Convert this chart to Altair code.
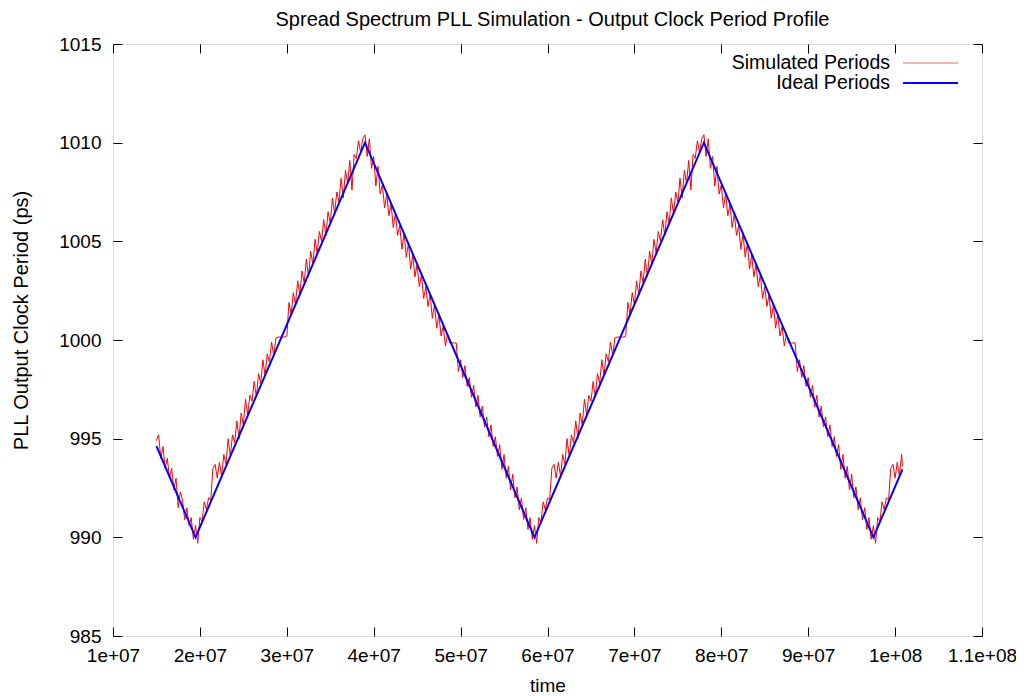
import altair as alt
import pandas as pd

# ---------------- text ----------------
title_text = "Spread Spectrum PLL Simulation - Output Clock Period Profile"
x_title = "time"
y_title = "PLL Output Clock Period (ps)"
legend_labels = ["Simulated Periods", "Ideal Periods"]
series_colors = ["#ff0000", "#0000ff"]

# ---------------- axes ----------------
x_ticks = [1e7, 2e7, 3e7, 4e7, 5e7, 6e7, 7e7, 8e7, 9e7, 1e8, 1.1e8]
x_tick_labels = ["1e+07", "2e+07", "3e+07", "4e+07", "5e+07", "6e+07",
                 "7e+07", "8e+07", "9e+07", "1e+08", "1.1e+08"]
y_ticks = [985, 990, 995, 1000, 1005, 1010, 1015]

# ---------------- ideal periods (triangle profile) ----------------
ideal_time = [1.5e7, 1.95e7, 3.9e7, 5.85e7, 7.8e7, 9.75e7, 1.0085e8]
ideal_period = [994.62, 990.0, 1010.0, 990.0, 1010.0, 990.0, 993.44]

# ---------------- simulated periods, time in units of 1e6 ----------------
sim_time_m = [
    15.0, 15.25, 15.5, 15.75, 16.0, 16.25, 16.5, 16.75,
    17.0, 17.25, 17.5, 17.75, 18.0, 18.25, 18.5, 18.75,
    19.0, 19.25, 19.5, 19.75, 20.0, 20.25, 20.5, 20.75,
    21.0, 21.25, 21.5, 21.75, 22.0, 22.25, 22.5, 22.75,
    23.0, 23.25, 23.5, 23.75, 24.0, 24.25, 24.5, 24.75,
    25.0, 25.25, 25.5, 25.75, 26.0, 26.25, 26.5, 26.75,
    27.0, 27.25, 27.5, 27.75, 28.0, 28.25, 28.5, 28.75,
    29.0, 29.25, 29.5, 29.75, 30.0, 30.25, 30.5, 30.75,
    31.0, 31.25, 31.5, 31.75, 32.0, 32.25, 32.5, 32.75,
    33.0, 33.25, 33.5, 33.75, 34.0, 34.25, 34.5, 34.75,
    35.0, 35.25, 35.5, 35.75, 36.0, 36.25, 36.5, 36.75,
    37.0, 37.25, 37.5, 37.75, 38.0, 38.25, 38.5, 38.75,
    39.0, 39.25, 39.5, 39.75, 40.0, 40.25, 40.5, 40.75,
    41.0, 41.25, 41.5, 41.75, 42.0, 42.25, 42.5, 42.75,
    43.0, 43.25, 43.5, 43.75, 44.0, 44.25, 44.5, 44.75,
    45.0, 45.25, 45.5, 45.75, 46.0, 46.25, 46.5, 46.75,
    47.0, 47.25, 47.5, 47.75, 48.0, 48.25, 48.5, 48.75,
    49.0, 49.25, 49.5, 49.75, 50.0, 50.25, 50.5, 50.75,
    51.0, 51.25, 51.5, 51.75, 52.0, 52.25, 52.5, 52.75,
    53.0, 53.25, 53.5, 53.75, 54.0, 54.25, 54.5, 54.75,
    55.0, 55.25, 55.5, 55.75, 56.0, 56.25, 56.5, 56.75,
    57.0, 57.25, 57.5, 57.75, 58.0, 58.25, 58.5, 58.75,
    59.0, 59.25, 59.5, 59.75, 60.0, 60.25, 60.5, 60.75,
    61.0, 61.25, 61.5, 61.75, 62.0, 62.25, 62.5, 62.75,
    63.0, 63.25, 63.5, 63.75, 64.0, 64.25, 64.5, 64.75,
    65.0, 65.25, 65.5, 65.75, 66.0, 66.25, 66.5, 66.75,
    67.0, 67.25, 67.5, 67.75, 68.0, 68.25, 68.5, 68.75,
    69.0, 69.25, 69.5, 69.75, 70.0, 70.25, 70.5, 70.75,
    71.0, 71.25, 71.5, 71.75, 72.0, 72.25, 72.5, 72.75,
    73.0, 73.25, 73.5, 73.75, 74.0, 74.25, 74.5, 74.75,
    75.0, 75.25, 75.5, 75.75, 76.0, 76.25, 76.5, 76.75,
    77.0, 77.25, 77.5, 77.75, 78.0, 78.25, 78.5, 78.75,
    79.0, 79.25, 79.5, 79.75, 80.0, 80.25, 80.5, 80.75,
    81.0, 81.25, 81.5, 81.75, 82.0, 82.25, 82.5, 82.75,
    83.0, 83.25, 83.5, 83.75, 84.0, 84.25, 84.5, 84.75,
    85.0, 85.25, 85.5, 85.75, 86.0, 86.25, 86.5, 86.75,
    87.0, 87.25, 87.5, 87.75, 88.0, 88.25, 88.5, 88.75,
    89.0, 89.25, 89.5, 89.75, 90.0, 90.25, 90.5, 90.75,
    91.0, 91.25, 91.5, 91.75, 92.0, 92.25, 92.5, 92.75,
    93.0, 93.25, 93.5, 93.75, 94.0, 94.25, 94.5, 94.75,
    95.0, 95.25, 95.5, 95.75, 96.0, 96.25, 96.5, 96.75,
    97.0, 97.25, 97.5, 97.75, 98.0, 98.25, 98.5, 98.75,
    99.0, 99.25, 99.5, 99.75, 100.0, 100.25, 100.5, 100.75,
    100.85,
]
sim_period = [
    # 15 - 19.75
    994.9, 995.2, 994.0, 994.6, 993.5, 994.0, 993.0, 993.5,
    992.4, 993.0, 991.5, 992.3, 991.9, 990.9, 991.5, 990.6,
    991.0, 989.9, 990.6, 989.7,
    # 20 - 38.75 (rising)
    991.0, 990.8, 991.8, 991.4,
    992.0, 991.9, 993.5, 993.7, 993.0, 993.8, 993.1, 994.2,
    993.7, 995.0, 994.1, 995.2, 994.8, 995.9, 995.0, 996.3,
    995.7, 997.0, 996.2, 997.2, 996.9, 997.9, 997.1, 998.3,
    997.8, 999.0, 998.2, 999.3, 998.9, 999.9, 999.2, 1000.1,
    1000.15, 1000.15, 1000.15, 1000.15, 1000.2, 1001.9, 1001.3, 1002.4,
    1001.8, 1003.0, 1002.3, 1003.5, 1002.9, 1004.1, 1003.2, 1004.5,
    1003.85, 1005.1, 1004.4, 1005.5, 1005.0, 1006.1, 1005.3, 1006.5,
    1005.9, 1007.2, 1006.4, 1007.5, 1007.0, 1008.2, 1007.2, 1008.6,
    1007.95, 1009.1, 1007.6, 1009.4, 1009.2, 1010.1, 1009.5, 1010.2,
    # 39 - 58.75 (falling)
    1010.4, 1009.3, 1010.2, 1008.7, 1009.3, 1007.8, 1008.8, 1007.4,
    1007.85, 1006.7, 1007.4, 1006.3, 1006.9, 1005.7, 1006.4, 1005.3,
    1005.8, 1004.6, 1005.4, 1004.2, 1004.9, 1003.6, 1004.3, 1003.2,
    1003.85, 1002.7, 1003.3, 1002.1, 1002.7, 1001.7, 1002.3, 1001.1,
    1001.8, 1000.6, 1001.3, 1000.2, 1000.7, 999.7, 1000.3, 999.85,
    999.85, 999.85, 999.85, 998.4, 999.0, 998.1, 998.7, 997.65,
    998.1, 997.1, 997.7, 996.6, 997.2, 996.1, 996.65, 995.6,
    996.1, 995.1, 995.7, 994.6, 995.1, 994.1, 994.7, 993.45,
    994.2, 993.0, 993.6, 992.4, 993.2, 992.0, 992.55, 991.4,
    992.0, 990.9, 991.5, 990.4, 991.0, 989.9, 990.6, 989.7,
    # 59 - 77.75 (rising)
    991.0, 990.8, 991.8, 991.4,
    992.0, 991.9, 993.5, 993.7, 993.0, 993.8, 993.1, 994.2,
    993.7, 995.0, 994.1, 995.2, 994.8, 995.9, 995.0, 996.3,
    995.7, 997.0, 996.2, 997.2, 996.9, 997.9, 997.1, 998.3,
    997.8, 999.0, 998.2, 999.3, 998.9, 999.9, 999.2, 1000.1,
    1000.15, 1000.15, 1000.15, 1000.15, 1000.2, 1001.9, 1001.3, 1002.4,
    1001.8, 1003.0, 1002.3, 1003.5, 1002.9, 1004.1, 1003.2, 1004.5,
    1003.85, 1005.1, 1004.4, 1005.5, 1005.0, 1006.1, 1005.3, 1006.5,
    1005.9, 1007.2, 1006.4, 1007.5, 1007.0, 1008.2, 1007.2, 1008.6,
    1007.95, 1009.1, 1007.6, 1009.4, 1009.2, 1010.1, 1009.5, 1010.2,
    # 78 - 97.75 (falling)
    1010.4, 1009.3, 1010.2, 1008.7, 1009.3, 1007.8, 1008.8, 1007.4,
    1007.85, 1006.7, 1007.4, 1006.3, 1006.9, 1005.7, 1006.4, 1005.3,
    1005.8, 1004.6, 1005.4, 1004.2, 1004.9, 1003.6, 1004.3, 1003.2,
    1003.85, 1002.7, 1003.3, 1002.1, 1002.7, 1001.7, 1002.3, 1001.1,
    1001.8, 1000.6, 1001.3, 1000.2, 1000.7, 999.7, 1000.3, 999.85,
    999.85, 999.85, 999.85, 998.4, 999.0, 998.1, 998.7, 997.65,
    998.1, 997.1, 997.7, 996.6, 997.2, 996.1, 996.65, 995.6,
    996.1, 995.1, 995.7, 994.6, 995.1, 994.1, 994.7, 993.45,
    994.2, 993.0, 993.6, 992.4, 993.2, 992.0, 992.55, 991.4,
    992.0, 990.9, 991.5, 990.4, 991.0, 989.9, 990.6, 989.7,
    # 98 - 100.85 (rising)
    991.0, 990.8, 991.8, 991.4, 992.0, 991.9, 993.5, 993.7,
    993.0, 993.8, 993.1, 994.2, 993.6,
]

FONT = "Liberation Sans"
FS = 19
W, H = 869, 592

sim_df = pd.DataFrame({"time": [t * 1e6 for t in sim_time_m], "period": sim_period})
ideal_df = pd.DataFrame({"time": ideal_time, "period": ideal_period})

label_array = "[" + ",".join("'" + s + "'" for s in x_tick_labels) + "]"

x_scale = alt.Scale(domain=[x_ticks[0], x_ticks[-1]], nice=False, zero=False)
y_scale = alt.Scale(domain=[y_ticks[0], y_ticks[-1]], nice=False, zero=False)

x_axis = alt.Axis(
    values=x_ticks, labelExpr=label_array + "[round(datum.value/1e7)-1]",
    title=x_title, domain=False, ticks=False,
    grid=True, gridColor="black", gridOpacity=1, gridWidth=1,
    gridDash=[9, H - 18, 9, 3000],
    labelFont=FONT, labelFontSize=FS, labelColor="black", labelPadding=10,
    labelFlush=False, labelOverlap=False,
    titleFont=FONT, titleFontSize=FS, titleFontWeight="normal", titleColor="black",
    titleX=W / 2, titleY=55, titleAlign="center", titleBaseline="alphabetic",
)
y_axis = alt.Axis(
    values=y_ticks, format="d",
    title=y_title, domain=False, ticks=False,
    grid=True, gridColor="black", gridOpacity=1, gridWidth=1,
    gridDash=[9, W - 18, 9, 3000],
    labelFont=FONT, labelFontSize=FS, labelColor="black", labelPadding=12,
    labelFlush=False, labelOverlap=False,
    titleFont=FONT, titleFontSize=20, titleFontWeight="normal", titleColor="black",
    titleAngle=270, titleX=-86, titleY=H / 2 - 20, titleAlign="center",
    titleBaseline="alphabetic",
)

sim_line = alt.Chart(sim_df).mark_line(color=series_colors[0], strokeWidth=1).encode(
    x=alt.X("time:Q", scale=x_scale, axis=x_axis),
    y=alt.Y("period:Q", scale=y_scale, axis=y_axis),
)
ideal_line = alt.Chart(ideal_df).mark_line(color=series_colors[1], strokeWidth=2).encode(
    x=alt.X("time:Q", scale=x_scale),
    y=alt.Y("period:Q", scale=y_scale),
)

one = pd.DataFrame({"k": [0]})
title_mark = alt.Chart(one).mark_text(
    align="center", baseline="alphabetic", font=FONT, fontSize=20, color="black"
).encode(x=alt.value(W / 2 + 5), y=alt.value(-18), text=alt.value(title_text))

legend_layers = []
for i, (lab, col) in enumerate(zip(legend_labels, series_colors)):
    yy = 19 + 20 * i
    legend_layers.append(
        alt.Chart(one).mark_text(align="right", baseline="middle", font=FONT,
                                 fontSize=19.5, color="black").encode(
            x=alt.value(777), y=alt.value(yy), text=alt.value(lab))
    )
    legend_layers.append(
        alt.Chart(one).mark_rule(color=col, strokeWidth=1 if i == 0 else 2,
                                 opacity=0.6 if i == 0 else 1).encode(
            x=alt.value(790), x2=alt.value(845), y=alt.value(yy))
    )

chart = alt.layer(sim_line, ideal_line, title_mark, *legend_layers).properties(
    width=W, height=H,
    autosize=alt.AutoSizeParams(type="none"),
    padding={"left": 105, "top": 36, "right": 34, "bottom": 60},
).configure_view(stroke="black", strokeWidth=1).configure(background="white")

chart.save("out.html", embed_options={"renderer": "svg", "actions": False})
